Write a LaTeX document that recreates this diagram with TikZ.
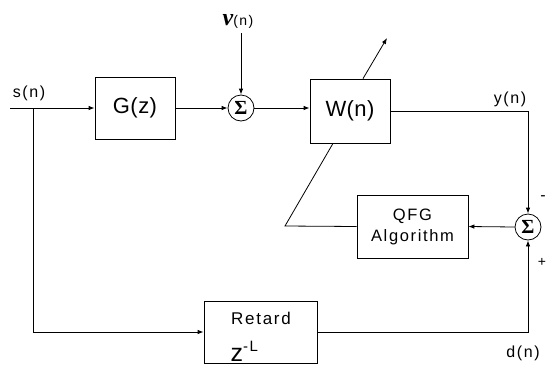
\documentclass[tikz,border=0pt]{standalone}
\usepackage{fontspec}
\setmainfont{Liberation Sans}
\newfontfamily\labs[LetterSpace=10]{Liberation Sans}
\newfontfamily\labb[LetterSpace=2]{Liberation Sans}
\newfontfamily\serifb{Liberation Serif}
\usetikzlibrary{arrows.meta}
\begin{document}
\begin{tikzpicture}[x=1pt,y=-1pt, line width=0.8pt,
  blk/.style={draw, rectangle, inner sep=0pt},
  sumn/.style={draw, circle, minimum size=26pt, inner sep=0pt, font=\serifb\bfseries\fontsize{20}{20}\selectfont},
  arr/.style={-{Latex[length=6pt,width=4.5pt]}},
  big/.style={font=\labb\fontsize{22}{24}\selectfont},
  sml/.style={font=\labs\fontsize{16}{18}\selectfont},
  mid/.style={font=\labs\fontsize{16.5}{21}\selectfont, align=center}]
\useasboundingbox (0,0) rectangle (552,365);
% blocks
\node[blk, big, minimum width=80pt, minimum height=62pt] (G) at (135,108) {G(z)};
\node[sumn] (S1) at (241,108) {Σ};
\node[blk, big, minimum width=80pt, minimum height=64pt] (W) at (350,111) {W(n)};
\node[blk, mid, minimum width=111pt, minimum height=63pt] (Q) at (412.5,226.5) {QFG\\Algorithm};
\node[sumn] (S2) at (528,227) {Σ};
\node[blk, minimum width=113pt, minimum height=62pt] (R) at (260.5,332) {};
\node[font=\labs\fontsize{17}{19}\selectfont] (Rt) at (261,318) {Retard};
\node[font=\labs\fontsize{25}{27}\selectfont, anchor=base west] (Rz) at (227,361) {z\raisebox{10pt}{\fontsize{15}{15}\selectfont -L}};
% labels
\node[sml] (sl) at (29,93) {s(n)};
\node[sml] (yl) at (510,99) {y(n)};
\node[sml] (dl) at (523,353) {d(n)};
\node (nl) at (238,21) {{\serifb\bfseries\itshape\fontsize{24}{24}\selectfont ν}{\labs\fontsize{14}{14}\selectfont (n)}};
\node[font=\fontsize{16}{16}\selectfont] (mn) at (543,198) {-};
\node[font=\fontsize{14}{14}\selectfont] (pl) at (542,262) {+};
% coordinates
\coordinate (in) at (10,108);
\coordinate (br) at (33,108);
\coordinate (nu) at (241,33);
\coordinate (fb) at (285,226);
\coordinate (wa) at (387,38);
% connectors
\draw[arr] (in) -- (G.west);
\draw[arr] (br) |- (R.west);
\draw[arr] (G.east) -- (S1.west);
\draw[arr] (nu) -- (S1.north);
\draw[arr] (S1.east) -- (S1.east -| W.west);
\draw[arr] (W.east) -| (S2.north);
\draw[arr] (R.east) -| (S2.south);
\draw[arr] (S2.west) -- (Q.east);
\draw (Q.west) -- (fb) -- ([xshift=-17pt]W.south);
\draw[arr] ([xshift=13pt]W.north) -- (wa);
\end{tikzpicture}
\end{document}
